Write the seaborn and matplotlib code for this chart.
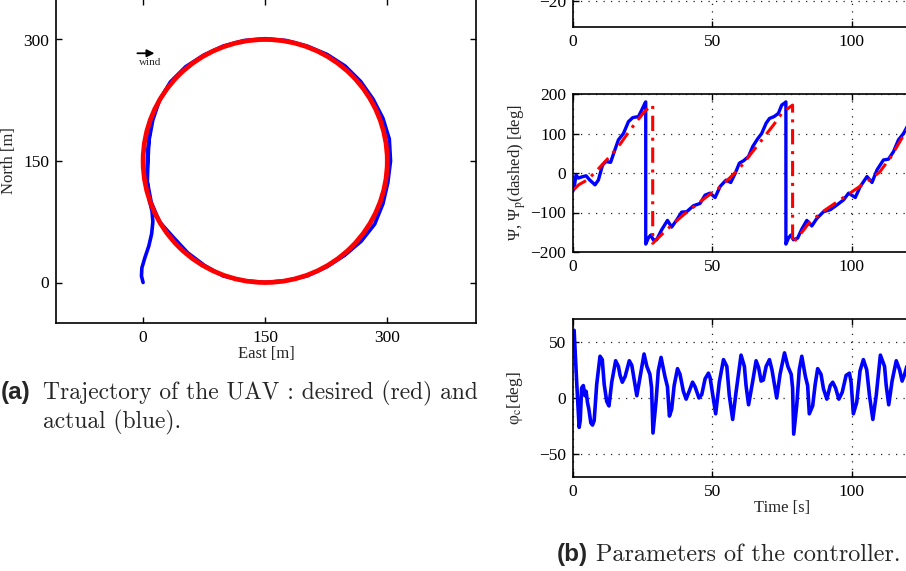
import numpy as np
import pandas as pd
import matplotlib
matplotlib.use("Agg")
import matplotlib.pyplot as plt
import seaborn as sns
from matplotlib.patches import Circle

# ---------------- data ----------------
# (a) desired circular path
circle_center = (150, 150)
circle_radius = 150
# (a) actual UAV trajectory (East, North) [m]
traj_east = [0, -2, -1.5, 2, 7, 10.5, 12, 11, 8, 6, 5, 5, 5.5, 6.5, 8, 10.5, 14, 20.1,
             33.6, 52.3, 74.5, 98.4, 123.8, 150, 176.2, 201.6, 226, 248.3, 267.2, 282.5,
             294.7, 302.5, 304, 300.7, 294.7, 284.5, 268, 247.7, 225.5, 201.6, 176, 150,
             124, 98.4, 75.5, 54.9, 37.4, 20.1, 10, 5.2, 6, 7.2, 11.9, 20.1, 34.3]
traj_north = [0, 8, 18, 30, 45, 60, 75, 88, 100, 112, 125, 140, 155, 170, 185, 200, 212, 225,
              247.7, 266.4, 280.8, 291.9, 298.7, 301, 298.7, 291.9, 281.6, 267.2, 248.3, 226.5,
              202.7, 177.1, 150, 123.4, 97.3, 72, 51, 33.6, 19.2, 8.1, 2.3, 0,
              2.3, 8.1, 21, 36.6, 55.5, 75, 99, 124.5, 150, 175.2, 200.3, 225, 247.1]
traj_ticks = [0, 150, 300]

# (b) heading Psi (actual) [deg]
psi_t = [0.0, 0.4, 1.1, 1.9, 3.1, 4.7, 5.9, 7.9, 9.1, 10.6, 11.8, 13.5, 14.8, 16.3, 18.1,
         19.9, 21.4, 23.5, 24.7, 25.9, 26.1, 26.1, 27.0, 27.9, 28.8, 30.0, 31.8, 33.9,
         35.4, 37.2, 39.0, 40.8, 43.2, 45.6, 47.4, 49.2, 51.0, 52.8, 54.9, 56.6, 58.2,
         59.7, 61.2, 63.0, 64.5, 66.2, 67.7, 69.3, 70.5, 72.2, 73.7, 74.9, 76.1, 76.4,
         76.4, 77.3, 78.2, 79.1, 80.6, 82.1, 83.9, 85.7, 87.5, 89.9, 92.3, 94.7, 97.1,
         98.9, 101.3, 103.1, 105.5, 107.3, 109.1, 111.4, 113.2, 115.0, 116.8, 118.6,
         120.5, 122.0]
psi = [-45, -38, -5, -13, -10, -7, -17, -30, -18, 20, 29, 27, 54, 84, 100,
       130, 140, 143, 160, 178, 180, -180, -165, -157, -169, -169, -144, -120,
       -137, -119, -99, -98, -83, -77, -56, -51, -62, -34, -18, -24, -1,
       25, 31, 42, 67, 86, 100, 126, 138, 143, 151, 172, 178, 180,
       -180, -165, -157, -169, -165, -142, -120, -134, -115, -98, -93, -81, -68,
       -51, -62, -34, -9, -24, 8, 33, 35, 54, 84, 100,
       125, 140]
# (b) desired heading Psi_p [deg]
psip_t = [0.3, 2, 5, 8, 11, 14, 17, 20, 23, 26, 28.6, 28.6, 30, 33, 36, 40, 44, 48, 52,
          56, 60, 64, 68, 72, 75, 78.8, 78.8, 81, 85, 90, 95, 100, 105, 110, 114, 118, 122]
psip = [-42, -30, -18, 2, 25, 48, 74, 104, 132, 158, 172, -178, -168, -148, -128, -104,
        -82, -60, -40, -14, 14, 50, 86, 122, 152, 172, -178, -160, -124, -96, -72, -48,
        -24, 2, 40, 88, 136]
# (b) commanded roll phi_c [deg]
phic_t = [0, 0.4, 1.3, 2.2, 2.6, 3.1, 3.7, 4.3, 4.7, 5.2, 5.7, 6.4, 7.0, 7.6, 8.5, 9.7,
          10.5, 11.2, 12.1, 12.9, 13.9, 15.3, 16.3, 16.9, 17.7, 18.7, 20.2, 21.1, 22.9,
          24.1, 25.5, 26.5, 27.6, 28.2, 28.7, 29.8, 30.6, 31.6, 33.0, 33.9, 34.6, 35.4,
          36.3, 37.5, 38.4, 39.6, 40.6, 41.7, 42.9, 43.8, 45.2, 46.2, 47.4, 48.6, 49.2,
          50.2, 51.2, 52.5, 54.0, 55.2, 56.1, 57.3, 58.5, 60.3, 61.5, 62.1, 63.0, 64.5,
          65.7, 66.6, 67.5, 68.3, 69.3, 70.5, 71.4, 73.1, 74.3, 75.9, 77.1, 78.3, 78.8,
          79.2, 80.3, 81.2, 82.1, 83.4, 84.2, 84.8, 86.0, 86.9, 87.8, 89.0, 89.9, 91.1,
          92.3, 93.2, 94.2, 95.4, 96.6, 98.0, 99.2, 99.8, 100.6, 101.8, 103.0, 104.2,
          105.4, 106.4, 107.6, 108.8, 110.3, 111.8, 112.4, 113.3, 114.5, 116.0, 117.2,
          118.1, 119.0, 119.8, 121.0]
phic = [58, 60, 15, -26, -20, 9, 11, 2, 6, -4, -10, -22, -24, -20, 12, 37,
        34, 12, -3, -7, 14, 33, 28, 20, 14, 19, 33, 29, 2,
        19, 39, 28, 21, 9, -31, -3, 24, 36, 19, 10, -16, -10,
        11, 26, 21, 6, -1, 6, 14, 10, 0, 3, 17, 22, 18,
        2, -14, 14, 34, 28, 2, -19, 5, 38, 28, 11, -6, 15,
        33, 27, 15, 16, 28, 34, 25, 0, 21, 40, 28, 21, 9,
        -32, -6, 25, 37, 19, 11, -14, -7, 12, 26, 21, 8, -1,
        11, 14, 9, -1, 5, 20, 22, 14, -14, -4, 24, 34,
        25, 2, -19, 2, 38, 28, 11, -6, 15, 33, 25,
        15, 21, 28, 30]
time_ticks = [0, 50, 100, 150]

# ---------------- style ----------------
sns.set_style("white")
plt.rcParams.update({
    "font.family": ["Liberation Serif", "DejaVu Serif"],
    "mathtext.fontset": "stix",
    "font.size": 12,
    "axes.linewidth": 1.2,
    "axes.edgecolor": "black",
})

W, H = 906, 571
fig = plt.figure(figsize=(W / 100, H / 100), dpi=100)
fig.patch.set_facecolor("white")


def px_axes(x0, y0, x1, y1):
    return fig.add_axes([x0 / W, 1 - y1 / H, (x1 - x0) / W, (y1 - y0) / H])


def style_ticks(ax):
    ax.tick_params(direction="in", top=True, right=True, bottom=True, left=True,
                   length=4, width=1.0, labelsize=12.5, colors="black", pad=5)
    for s in ax.spines.values():
        s.set_visible(True)
        s.set_linewidth(1.2)
        s.set_color("black")


BLUE = "#0000ff"
RED = "#ff0000"

# ---------------- (a) trajectory ----------------
axA = px_axes(56, -1, 476, 323)
traj = pd.DataFrame({"East": traj_east, "North": traj_north})
sns.lineplot(data=traj, x="East", y="North", sort=False, estimator=None,
             color=BLUE, lw=2.6, ax=axA)
axA.add_patch(Circle(circle_center, circle_radius, fill=False, ec=RED, lw=3.4, zorder=3))
axA.set_xlim(-107, 409)
axA.set_ylim(-50, 350)
axA.set_xticks(traj_ticks)
axA.set_yticks(traj_ticks)
axA.set_xlabel("East [m]", fontsize=12, labelpad=0)
axA.set_ylabel("North [m]", fontsize=12, labelpad=4)
style_ticks(axA)
axA.annotate("", xy=(14, 283), xytext=(-7, 283),
             arrowprops=dict(arrowstyle="-|>", color="black", lw=1.3, mutation_scale=11,
                             shrinkA=0, shrinkB=0))
axA.text(9, 271, "wind", fontsize=8, ha="center", va="center")

# ---------------- (b) controller ----------------
ax1 = px_axes(573, -131, 991, 27)
ax2 = px_axes(573, 94, 991, 252)
ax3 = px_axes(573, 319, 991, 477)

grid_kw = dict(color="#222222", linestyle=(0, (1, 5)), linewidth=0.9)

# top panel (only its lower edge is visible)
ax1.set_xlim(0, 150)
ax1.set_ylim(-30, 30)
ax1.set_xticks(time_ticks)
ax1.set_yticks([-20, 0, 20])
ax1.grid(True, **grid_kw)
style_ticks(ax1)

# heading panel
hd = pd.DataFrame({"t": psi_t, "psi": psi})
hp = pd.DataFrame({"t": psip_t, "psip": psip})
sns.lineplot(data=hd, x="t", y="psi", sort=False, estimator=None, color=BLUE, lw=2.4, ax=ax2)
sns.lineplot(data=hp, x="t", y="psip", sort=False, estimator=None, color=RED, lw=2.2,
             linestyle=(0, (5, 2.2, 1, 2.2)), ax=ax2)
ax2.set_xlim(0, 150)
ax2.set_ylim(-200, 200)
ax2.set_xticks(time_ticks)
ax2.set_yticks([-200, -100, 0, 100, 200])
ax2.grid(True, **grid_kw)
ax2.set_xlabel("")
ax2.set_ylabel("\u03a8, \u03a8$_{\\mathrm{p}}$(dashed) [deg]", fontsize=12, labelpad=2)
style_ticks(ax2)

# roll command panel
rc = pd.DataFrame({"t": phic_t, "phic": phic})
sns.lineplot(data=rc, x="t", y="phic", sort=False, estimator=None, color=BLUE, lw=2.6, ax=ax3)
ax3.set_xlim(0, 150)
ax3.set_ylim(-70, 70)
ax3.set_xticks(time_ticks)
ax3.set_yticks([-50, 0, 50])
ax3.grid(True, **grid_kw)
ax3.set_xlabel("Time [s]", fontsize=12, labelpad=0)
ax3.set_ylabel("\u03c6$_{\\mathrm{c}}$[deg]", fontsize=12.5, labelpad=10)
style_ticks(ax3)

# ---------------- captions ----------------
fig.text(1 / W, 1 - 399 / H, "(a)", fontfamily="Liberation Sans", fontweight="bold",
         fontsize=17.5, va="baseline", ha="left")
fig.text(43 / W, 1 - 399 / H, "Trajectory of the UAV : desired (red) and",
         fontfamily="cmr10", fontsize=16.9, va="baseline", ha="left")
fig.text(43 / W, 1 - 428 / H, "actual (blue).",
         fontfamily="cmr10", fontsize=16.9, va="baseline", ha="left")
fig.text(557 / W, 1 - 561 / H, "(b)", fontfamily="Liberation Sans", fontweight="bold",
         fontsize=17.5, va="baseline", ha="left")
fig.text(596 / W, 1 - 561 / H, "Parameters of the controller.",
         fontfamily="cmr10", fontsize=17.4, va="baseline", ha="left")

fig.savefig("out.png", dpi=100, facecolor="white")
